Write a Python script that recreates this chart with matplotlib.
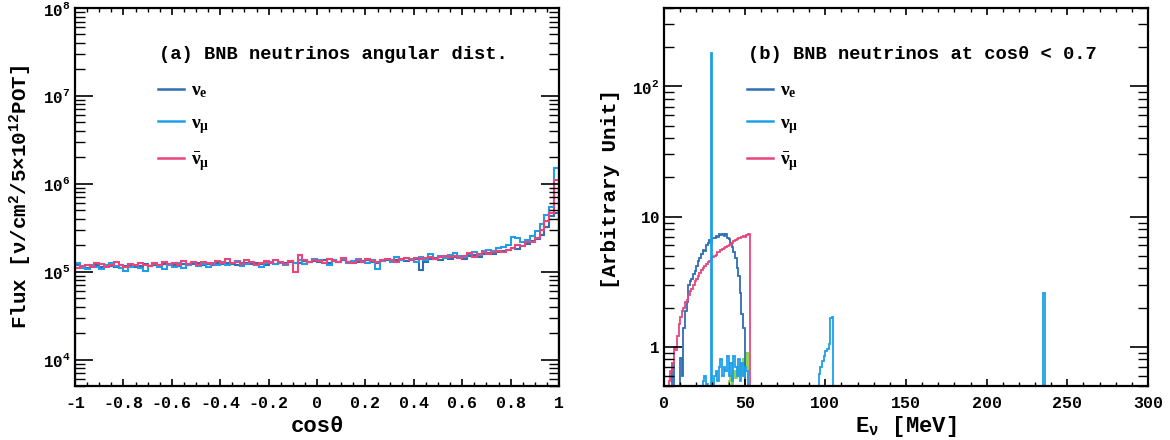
import numpy as np
import matplotlib
matplotlib.use("Agg")
import matplotlib.pyplot as plt
from matplotlib.lines import Line2D
from matplotlib.ticker import FixedLocator, MultipleLocator, LogLocator, FuncFormatter, NullFormatter

plt.rcParams['font.family'] = ['Liberation Mono', 'DejaVu Sans']
plt.rcParams['font.weight'] = 'bold'
plt.rcParams['mathtext.fontset'] = 'custom'
plt.rcParams['mathtext.rm'] = 'Liberation Serif'
plt.rcParams['mathtext.it'] = 'Liberation Serif:italic'
plt.rcParams['mathtext.bf'] = 'Liberation Mono:bold'

COLOR_NUE = '#2f6db3'
COLOR_NUMU = '#1e9fe8'
COLOR_NUMUBAR = '#e8457c'
COLOR_OTHER = '#86d040'

# ---------------- Panel (a): angular distribution ----------------
COS_EDGES = np.linspace(-1, 1, 101)
FLUX_UNIT = 1e5
FLUX_NUE = [
    1.20, 1.12, 1.10, 1.15, 1.18, 1.14, 1.20, 1.16, 1.12, 1.18,
    1.15, 1.19, 1.14, 1.17, 1.21, 1.16, 1.19, 1.15, 1.22, 1.18,
    1.20, 1.17, 1.23, 1.19, 1.21, 1.24, 1.18, 1.22, 1.20, 1.25,
    1.21, 1.26, 1.22, 1.19, 1.24, 1.27, 1.21, 1.25, 1.22, 1.20,
    1.26, 1.23, 1.28, 1.24, 1.30, 1.27, 1.25, 1.31, 1.28, 1.33,
    1.30, 1.34, 1.27, 1.31, 1.29, 1.35, 1.30, 1.33, 1.28, 1.32,
    1.36, 1.30, 1.26, 1.33, 1.37, 1.32, 1.35, 1.38, 1.33, 1.36,
    1.40, 1.05, 1.30, 1.38, 1.42, 1.36, 1.45, 1.40, 1.47, 1.42,
    1.38, 1.50, 1.55, 1.48, 1.58, 1.62, 1.60, 1.68, 1.72, 1.78,
    1.85, 1.80, 1.95, 2.05, 2.25, 2.35, 2.60, 3.20, 4.30, 4.60,
]
FLUX_NUMU = [
    1.24, 1.10, 1.08, 1.18, 1.12, 1.06, 1.20, 1.25, 1.15, 1.10,
    1.02, 1.14, 1.20, 1.10, 1.03, 1.16, 1.22, 1.12, 1.08, 1.20,
    1.14, 1.24, 1.10, 1.18, 1.28, 1.17, 1.23, 1.13, 1.26, 1.20,
    1.30, 1.18, 1.24, 1.32, 1.15, 1.22, 1.28, 1.19, 1.14, 1.24,
    1.30, 1.21, 1.27, 1.18, 1.32, 1.25, 1.36, 1.22, 1.28, 1.40,
    1.34, 1.26, 1.20, 1.35, 1.29, 1.38, 1.24, 1.33, 1.40, 1.30,
    1.24, 1.36, 1.08, 1.32, 1.40, 1.28, 1.45, 1.34, 1.42, 1.38,
    1.30, 1.48, 1.36, 1.58, 1.40, 1.52, 1.44, 1.56, 1.62, 1.50,
    1.45, 1.60, 1.68, 1.56, 1.72, 1.78, 1.70, 1.85, 1.92, 2.00,
    2.45, 2.40, 2.15, 2.30, 2.55, 2.90, 3.50, 4.40, 5.40, 15.0,
]
FLUX_NUMUBAR = [
    1.10, 1.17, 1.20, 1.14, 1.26, 1.22, 1.13, 1.18, 1.28, 1.20,
    1.14, 1.22, 1.18, 1.25, 1.20, 1.16, 1.24, 1.19, 1.28, 1.22,
    1.26, 1.19, 1.32, 1.23, 1.28, 1.20, 1.30, 1.25, 1.22, 1.33,
    1.27, 1.38, 1.24, 1.30, 1.22, 1.34, 1.28, 1.19, 1.26, 1.32,
    1.24, 1.36, 1.29, 1.22, 1.31, 0.98, 1.55, 1.34, 1.28, 1.37,
    1.31, 1.26, 1.40, 1.33, 1.28, 1.42, 1.30, 1.25, 1.36, 1.30,
    1.38, 1.33, 1.28, 1.35, 1.41, 1.34, 1.30, 1.38, 1.42, 1.36,
    1.44, 1.38, 1.42, 1.48, 1.40, 1.46, 1.52, 1.45, 1.50, 1.44,
    1.52, 1.62, 1.48, 1.58, 1.68, 1.60, 1.66, 1.72, 1.68, 1.78,
    1.85, 2.00, 1.95, 2.15, 2.20, 2.40, 2.95, 3.80, 4.60, 11.0,
]
COS_TICKS = [-1, -0.8, -0.6, -0.4, -0.2, 0, 0.2, 0.4, 0.6, 0.8, 1]
COS_TICK_LABELS = ['-1', '-0.8', '-0.6', '-0.4', '-0.2', '0', '0.2', '0.4', '0.6', '0.8', '1']

# ---------------- Panel (b): energy spectra ----------------
E_MAX = 300
E_BIN = 1.0
NUE_START = 5
NUE_VALUES = [0.75, 0.3, 0.3, 0.3, 0.3, 0.82, 0.6, 1.4, 1.9, 2.2,
              3.0, 3.2, 3.3, 3.6, 3.8, 4.2, 4.6, 4.8, 5.2, 5.5,
              5.4, 6.0, 6.3, 6.6, 6.4, 6.9, 6.8, 7.1, 7.0, 7.3,
              7.2, 7.4, 7.1, 7.3, 6.9, 6.7, 6.3, 5.8, 5.3, 4.8,
              4.0, 3.5, 2.6, 1.8, 1.4, 0.4]
NUMUBAR_START = 3
NUMUBAR_VALUES = [0.55, 0.65, 0.75, 1.0, 0.95, 1.2, 1.5, 1.7, 1.9, 2.0,
                  2.2, 2.3, 2.5, 2.7, 2.8, 3.0, 3.2, 3.3, 3.5, 3.7,
                  3.9, 4.0, 4.2, 4.3, 4.5, 4.6, 4.8, 4.9, 5.0, 5.1,
                  5.3, 5.3, 5.5, 5.6, 5.7, 5.8, 5.9, 6.1, 6.2, 6.3,
                  6.5, 6.6, 6.7, 6.8, 6.9, 7.0, 7.1, 7.0, 7.2, 7.3]
NUMU_LOW_START = 24
NUMU_LOW_VALUES = [0.55, 0.6, 0.52, 0.3, 0.3, 180.0, 0.3, 0.6, 0.65, 0.55,
                   0.7, 0.8, 0.6, 0.7, 0.65, 0.85, 0.6, 0.75, 0.55, 0.85,
                   0.7, 0.6, 0.8, 0.55, 0.75, 0.6, 0.7, 0.65, 0.3]
NUMU_BUMP_START = 96
NUMU_BUMP_VALUES = [0.62, 0.7, 0.78, 0.85, 0.93, 0.97, 1.05, 1.65, 1.7]
NUMU_KDAR_START = 235
NUMU_KDAR_VALUES = [2.6]
OTHER_START = 40
OTHER_VALUES = [0.55, 0.6, 0.52, 0.65, 0.58, 0.7, 0.6, 0.75, 0.62, 0.8,
                0.7, 0.9, 0.4]
E_TICKS = [0, 50, 100, 150, 200, 250, 300]

LEGEND_LABELS = [r'$\mathrm{\nu_{e}}$', r'$\mathrm{\nu_{\mu}}$', r'$\mathrm{\bar{\nu}_{\mu}}$']


def build_spectrum(parts):
    n = int(E_MAX / E_BIN)
    arr = np.zeros(n)
    for start, vals in parts:
        i0 = int(start / E_BIN)
        arr[i0:i0 + len(vals)] = vals
    return arr


def style_axes(ax):
    for s in ax.spines.values():
        s.set_linewidth(1.6)
    ax.tick_params(which='both', direction='in', top=True, right=True, colors='black')
    ax.tick_params(axis='y', which='major', length=13, width=1.2, labelsize=11.5, pad=3)
    ax.tick_params(axis='y', which='minor', length=7, width=1.0)
    ax.tick_params(axis='x', which='major', length=5, width=1.2, labelsize=12, pad=7)
    ax.tick_params(axis='x', which='minor', length=3, width=1.0)


def add_legend(ax):
    handles = [Line2D([], [], color=c, lw=1.8) for c in (COLOR_NUE, COLOR_NUMU, COLOR_NUMUBAR)]
    ax.legend(handles, LEGEND_LABELS, loc='upper left', bbox_to_anchor=(0.172, 0.805),
              frameon=False, prop={'family': 'Liberation Serif', 'size': 14},
              handlelength=1.3, handletextpad=0.4, labelspacing=0.75,
              borderaxespad=0, borderpad=0)


fig = plt.figure(figsize=(11.7, 4.4), dpi=100)
ax1 = fig.add_axes([75 / 1170, 54 / 440, 484 / 1170, 378 / 440])
ax2 = fig.add_axes([664 / 1170, 54 / 440, 484 / 1170, 378 / 440])

# Panel (a)
for vals, col in ((FLUX_NUE, COLOR_NUE), (FLUX_NUMU, COLOR_NUMU), (FLUX_NUMUBAR, COLOR_NUMUBAR)):
    ax1.stairs(np.array(vals) * FLUX_UNIT, COS_EDGES, color=col, lw=1.5, baseline=1.0)
ax1.set_yscale('log')
ax1.set_xlim(-1, 1)
ax1.set_ylim(5e3, 1e8)
ax1.xaxis.set_major_locator(FixedLocator(COS_TICKS))
ax1.set_xticklabels(COS_TICK_LABELS)
ax1.xaxis.set_minor_locator(MultipleLocator(0.05))
ax1.yaxis.set_major_locator(LogLocator(base=10, numticks=20))
ax1.yaxis.set_minor_locator(LogLocator(base=10, subs=np.arange(2, 10), numticks=20))
ax1.yaxis.set_major_formatter(FuncFormatter(lambda v, p: r'$\mathbf{10^{%d}}$' % round(np.log10(v))))
ax1.yaxis.set_minor_formatter(NullFormatter())
style_axes(ax1)
ax1.set_xlabel('cosθ', fontsize=16, fontweight='bold')
ax1.xaxis.set_label_coords(0.5, -0.08)
ax1.set_ylabel('Flux [' + r'$\mathbf{\nu/cm^{2}/5{\times}10^{12}POT}$' + ']',
               fontsize=15, fontweight='bold')
ax1.yaxis.set_label_coords(-0.085, 0.5)
ax1.text(0.174, 0.878, '(a) BNB neutrinos angular dist.', transform=ax1.transAxes,
         fontsize=13.5, fontweight='bold', ha='left', va='center')
add_legend(ax1)

# Panel (b)
edges = np.arange(0, E_MAX + E_BIN / 2, E_BIN)
spec_other = build_spectrum([(OTHER_START, OTHER_VALUES)])
spec_nue = build_spectrum([(NUE_START, NUE_VALUES)])
spec_numubar = build_spectrum([(NUMUBAR_START, NUMUBAR_VALUES)])
spec_numu = build_spectrum([(NUMU_LOW_START, NUMU_LOW_VALUES),
                            (NUMU_BUMP_START, NUMU_BUMP_VALUES),
                            (NUMU_KDAR_START, NUMU_KDAR_VALUES)])
ax2.stairs(spec_other, edges, color=COLOR_OTHER, lw=1.3, baseline=1e-3)
ax2.stairs(spec_nue, edges, color=COLOR_NUE, lw=1.3, baseline=1e-3)
ax2.stairs(spec_numubar, edges, color=COLOR_NUMUBAR, lw=1.3, baseline=1e-3)
ax2.stairs(spec_numu, edges, color=COLOR_NUMU, lw=1.3, baseline=1e-3)
ax2.set_yscale('log')
ax2.set_xlim(0, 300)
ax2.set_ylim(0.5, 400)
ax2.xaxis.set_major_locator(FixedLocator(E_TICKS))
ax2.xaxis.set_minor_locator(MultipleLocator(10))
ax2.yaxis.set_major_locator(LogLocator(base=10, numticks=20))
ax2.yaxis.set_minor_locator(LogLocator(base=10, subs=np.arange(2, 10), numticks=20))


def fmt_b(v, p):
    e = round(np.log10(v))
    if e <= 0:
        return r'$\mathbf{1}$'
    if e == 1:
        return r'$\mathbf{10}$'
    return r'$\mathbf{10^{%d}}$' % e


ax2.yaxis.set_major_formatter(FuncFormatter(fmt_b))
ax2.yaxis.set_minor_formatter(NullFormatter())
style_axes(ax2)
ax2.set_xlabel(r'$\mathbf{E_{\nu}}$ [MeV]', fontsize=16, fontweight='bold')
ax2.xaxis.set_label_coords(0.5, -0.075)
ax2.set_ylabel('[Arbitrary Unit]', fontsize=15, fontweight='bold')
ax2.yaxis.set_label_coords(-0.09, 0.52)
ax2.text(0.174, 0.878, '(b) BNB neutrinos at cosθ < 0.7', transform=ax2.transAxes,
         fontsize=13.5, fontweight='bold', ha='left', va='center')
add_legend(ax2)

fig.savefig('out.png', dpi=100)
